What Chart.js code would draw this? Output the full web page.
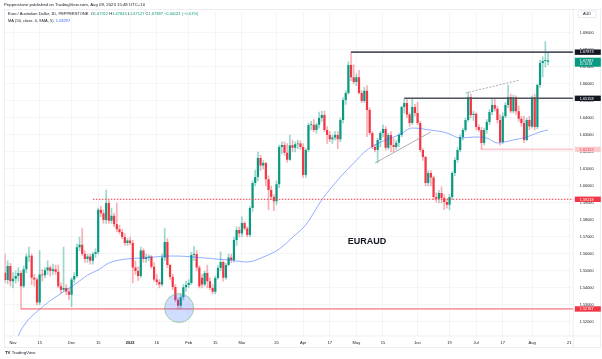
<!DOCTYPE html>
<html>
<head>
<meta charset="utf-8">
<script src="https://cdn.jsdelivr.net/npm/chart.js@4.4.0/dist/chart.umd.min.js"></script>
<style>
  html, body { margin: 0; padding: 0; background: #fff; }
  #wrap { width: 602px; height: 359px; }
</style>
</head>
<body>
<div id="wrap"><canvas id="euraudChart" width="602" height="359"></canvas></div>
<script>
// EUR/AUD daily candles, index 0 = 1 Nov 2022, last = 9 Aug 2023
const firstIndex = -3;
const lastIndex = 210; // empty bars after the last candle

const opens = [
  1.5490,1.5447,1.5530,1.5440,1.5455,1.5470,1.5488,1.5410,1.5510,1.5585,
  1.5590,1.5460,1.5450,1.5315,1.5480,1.5475,1.5505,1.5520,1.5500,1.5510,
  1.5495,1.5410,1.5390,1.5400,1.5380,1.5360,1.5450,1.5470,1.5640,1.5655,
  1.5600,1.5570,1.5585,1.5560,1.5600,1.5610,1.5860,1.5840,1.5800,1.5900,
  1.5795,1.5825,1.5775,1.5745,1.5730,1.5700,1.5665,1.5680,1.5665,1.5520,
  1.5500,1.5470,1.5620,1.5570,1.5580,1.5585,1.5525,1.5450,1.5435,1.5420,
  1.5580,1.5670,1.5535,1.5465,1.5406,1.5330,1.5295,1.5345,1.5405,1.5418,
  1.5430,1.5594,1.5600,1.5520,1.5460,1.5420,1.5488,1.5440,1.5400,1.5378,
  1.5459,1.5518,1.5553,1.5460,1.5535,1.5580,1.5565,1.5682,1.5741,1.5720,
  1.5782,1.5750,1.5712,1.5871,1.6018,1.6053,1.6165,1.6120,1.6135,1.6040,
  1.5976,1.5935,1.5910,1.6010,1.6229,1.6241,1.6195,1.6155,1.6240,1.6225,
  1.6245,1.6250,1.6230,1.6065,1.6212,1.6359,1.6360,1.6330,1.6360,1.6400,
  1.6418,1.6330,1.6300,1.6275,1.6285,1.6300,1.6275,1.6388,1.6506,1.6547,
  1.6712,1.6640,1.6612,1.6640,1.6547,1.6500,1.6560,1.6447,1.6312,1.6229,
  1.6212,1.6270,1.6312,1.6335,1.6225,1.6300,1.6241,1.6230,1.6255,1.6300,
  1.6465,1.6488,1.6420,1.6370,1.6465,1.6430,1.6370,1.6212,1.6170,1.6018,
  1.6076,1.6050,1.5935,1.5925,1.5959,1.5930,1.5906,1.5890,1.5935,1.6076,
  1.6153,1.6212,1.6288,1.6329,1.6388,1.6524,1.6418,1.6425,1.6347,1.6330,
  1.6253,1.6329,1.6376,1.6435,1.6476,1.6455,1.6388,1.6259,1.6410,1.6476,
  1.6524,1.6440,1.6520,1.6440,1.6395,1.6370,1.6271,1.6388,1.6350,1.6520,
  1.6347,1.6594,1.6723,1.6735,1.67312
];
const highs = [
  1.5600,1.5560,1.5545,1.5490,1.5500,1.5520,1.5500,1.5530,1.5600,1.5640,
  1.5600,1.5480,1.5460,1.5620,1.5510,1.5520,1.5560,1.5530,1.5540,1.5535,
  1.5535,1.5430,1.5640,1.5420,1.5400,1.5460,1.5490,1.5660,1.5700,1.5750,
  1.5620,1.5600,1.5600,1.5610,1.5630,1.5870,1.5880,1.5860,1.5976,1.5915,
  1.5870,1.5840,1.5900,1.5770,1.5745,1.5720,1.5690,1.5700,1.5680,1.5560,
  1.5525,1.5640,1.5630,1.5600,1.5595,1.5590,1.5550,1.5480,1.5450,1.5600,
  1.5750,1.5690,1.5540,1.5480,1.5420,1.5340,1.5360,1.5420,1.5440,1.5450,
  1.5610,1.5645,1.5620,1.5530,1.5480,1.5500,1.5535,1.5460,1.5420,1.5470,
  1.5530,1.5612,1.5560,1.5545,1.5600,1.5600,1.5700,1.5760,1.5760,1.5818,
  1.5790,1.5760,1.5880,1.6030,1.6094,1.6200,1.6180,1.6150,1.6140,1.6060,
  1.6000,1.5950,1.6030,1.6240,1.6260,1.6260,1.6250,1.6300,1.6270,1.6260,
  1.6270,1.6265,1.6250,1.6220,1.6370,1.6380,1.6390,1.6370,1.6435,1.6440,
  1.6440,1.6350,1.6320,1.6300,1.6320,1.6320,1.6400,1.6520,1.6560,1.6730,
  1.6787,1.6712,1.6660,1.6680,1.6560,1.6580,1.6590,1.6460,1.6320,1.6245,
  1.6280,1.6320,1.6360,1.6350,1.6310,1.6320,1.6280,1.6270,1.6310,1.6470,
  1.6516,1.6510,1.6430,1.6515,1.6480,1.6494,1.6380,1.6220,1.6175,1.6090,
  1.6090,1.6060,1.5960,1.5975,1.5995,1.5950,1.5925,1.5950,1.6085,1.6165,
  1.6225,1.6300,1.6340,1.6400,1.6553,1.6540,1.6440,1.6430,1.6360,1.6345,
  1.6340,1.6390,1.6450,1.6515,1.6515,1.6470,1.6420,1.6430,1.6490,1.6594,
  1.6540,1.6535,1.6530,1.6470,1.6410,1.6410,1.6400,1.6410,1.6530,1.6540,
  1.6600,1.6740,1.6760,1.6850,1.67844
];
const lows = [
  1.5430,1.5425,1.5410,1.5400,1.5430,1.5440,1.5277,1.5400,1.5490,1.5555,
  1.5420,1.5410,1.5300,1.5300,1.5440,1.5460,1.5480,1.5470,1.5480,1.5480,
  1.5400,1.5370,1.5380,1.5360,1.5330,1.5290,1.5430,1.5460,1.5620,1.5590,
  1.5550,1.5550,1.5540,1.5540,1.5580,1.5600,1.5820,1.5780,1.5780,1.5780,
  1.5780,1.5760,1.5730,1.5720,1.5690,1.5650,1.5650,1.5655,1.5430,1.5480,
  1.5445,1.5460,1.5550,1.5550,1.5560,1.5515,1.5440,1.5420,1.5400,1.5410,
  1.5560,1.5520,1.5450,1.5390,1.5320,1.5277,1.5280,1.5330,1.5380,1.5400,
  1.5420,1.5560,1.5500,1.5400,1.5400,1.5410,1.5400,1.5390,1.5365,1.5365,
  1.5450,1.5500,1.5440,1.5450,1.5530,1.5550,1.5550,1.5650,1.5700,1.5700,
  1.5740,1.5700,1.5700,1.5850,1.6000,1.6030,1.6090,1.6100,1.6000,1.5860,
  1.5920,1.5855,1.5890,1.5990,1.6190,1.6180,1.6140,1.6150,1.6200,1.6200,
  1.6220,1.6215,1.6050,1.6050,1.6200,1.6330,1.6320,1.6310,1.6340,1.6380,
  1.6320,1.6250,1.6260,1.6250,1.6270,1.6220,1.6260,1.6370,1.6480,1.6540,
  1.6620,1.6600,1.6590,1.6540,1.6490,1.6490,1.6290,1.6300,1.6220,1.6200,
  1.6135,1.6230,1.6290,1.6210,1.6215,1.6200,1.6200,1.6215,1.6230,1.6290,
  1.6430,1.6400,1.6350,1.6360,1.6410,1.6360,1.6200,1.6150,1.6000,1.6000,
  1.6000,1.5920,1.5905,1.5900,1.5900,1.5860,1.5870,1.5860,1.5920,1.6060,
  1.6140,1.6200,1.6270,1.6320,1.6380,1.6400,1.6385,1.6330,1.6320,1.6215,
  1.6240,1.6310,1.6360,1.6420,1.6440,1.6370,1.6240,1.6250,1.6400,1.6460,
  1.6430,1.6430,1.6420,1.6380,1.6350,1.6255,1.6265,1.6330,1.6340,1.6330,
  1.6335,1.6580,1.6640,1.6700,1.67127
];
const closes = [
  1.5447,1.5530,1.5440,1.5455,1.5470,1.5488,1.5410,1.5510,1.5585,1.5590,
  1.5460,1.5450,1.5315,1.5480,1.5475,1.5505,1.5520,1.5500,1.5510,1.5495,
  1.5410,1.5390,1.5400,1.5380,1.5360,1.5450,1.5470,1.5640,1.5655,1.5600,
  1.5570,1.5585,1.5560,1.5600,1.5610,1.5860,1.5840,1.5800,1.5900,1.5795,
  1.5825,1.5775,1.5745,1.5730,1.5700,1.5665,1.5680,1.5665,1.5520,1.5500,
  1.5470,1.5620,1.5570,1.5580,1.5585,1.5525,1.5450,1.5435,1.5420,1.5580,
  1.5670,1.5535,1.5465,1.5406,1.5330,1.5295,1.5345,1.5405,1.5418,1.5430,
  1.5594,1.5600,1.5520,1.5410,1.5420,1.5488,1.5440,1.5400,1.5378,1.5459,
  1.5518,1.5553,1.5460,1.5535,1.5580,1.5565,1.5682,1.5741,1.5720,1.5782,
  1.5750,1.5712,1.5871,1.6018,1.6053,1.6165,1.6120,1.6135,1.6040,1.5976,
  1.5935,1.5910,1.6010,1.6229,1.6241,1.6195,1.6155,1.6240,1.6225,1.6245,
  1.6250,1.6230,1.6065,1.6212,1.6359,1.6360,1.6330,1.6360,1.6400,1.6418,
  1.6330,1.6300,1.6275,1.6285,1.6300,1.6275,1.6388,1.6506,1.6547,1.6712,
  1.6640,1.6612,1.6640,1.6547,1.6500,1.6560,1.6447,1.6312,1.6229,1.6212,
  1.6270,1.6312,1.6335,1.6225,1.6300,1.6241,1.6230,1.6255,1.6300,1.6465,
  1.6488,1.6420,1.6370,1.6465,1.6430,1.6370,1.6212,1.6170,1.6018,1.6076,
  1.6050,1.5935,1.5925,1.5959,1.5930,1.5906,1.5890,1.5935,1.6076,1.6153,
  1.6212,1.6288,1.6329,1.6388,1.6524,1.6418,1.6425,1.6347,1.6330,1.6253,
  1.6329,1.6376,1.6435,1.6476,1.6455,1.6388,1.6259,1.6410,1.6476,1.6524,
  1.6440,1.6520,1.6440,1.6395,1.6370,1.6271,1.6388,1.6350,1.6520,1.6347,
  1.6594,1.6723,1.6735,1.67408,1.67387
];

// MA (50, close) at some bars
const maIndex = [1, 3, 11, 20, 24, 28, 32, 36, 43, 48, 53, 58, 62, 68, 76, 81, 88, 94, 100, 106, 110, 116, 123, 128, 133, 140, 145, 150, 157, 163, 168, 173, 178, 182, 188, 193, 198, 201];
const maValues = [1.5080, 1.5153, 1.5288, 1.5388, 1.5429, 1.5476, 1.5506, 1.5547, 1.5571, 1.5576, 1.5582, 1.5588, 1.5588, 1.5582, 1.5571, 1.5565, 1.5553, 1.5582, 1.5629, 1.5712, 1.5771, 1.5918, 1.6053, 1.6135, 1.6212, 1.6271, 1.6300, 1.6341, 1.6329, 1.6312, 1.6282, 1.6288, 1.6282, 1.6253, 1.6271, 1.6288, 1.6318, 1.63297];

// time axis
const timeTickIndex = [0, 10, 22, 32, 44, 54, 66, 76, 86, 99, 109, 119, 129, 139, 152, 164, 174, 184, 195, 209];
const timeTickText = ['Nov', '15', 'Dec', '15', '2023', '16', 'Feb', '15', 'Mar', '20', 'Apr', '17', 'May', '15', 'Jun', '19', 'Jul', '17', 'Aug', '21'];

// price axis
const priceTicks = [1.52, 1.53, 1.54, 1.55, 1.56, 1.57, 1.58, 1.59, 1.60, 1.61, 1.62, 1.63, 1.64, 1.65, 1.66, 1.67, 1.68, 1.69];
const priceMin = 1.51176;
const priceMax = 1.70235;

// drawings
const levelPrices = [1.67873, 1.65158, 1.62152, 1.59218, 1.52767];
const levelFrom = [127, 147, 176, 30, 3];
const trendStart = [[136, 1.6135], [170, 1.6547]];
const trendEnd = [[157, 1.6318], [190.5, 1.6624]];
const circleAt = [62.4, 1.5282];
const noteAt = [133, 1.5676];
const noteText = 'EURAUD';

const UP = '#089981', DOWN = '#f23645';
const FONT = '"Liberation Sans", Arial, sans-serif';

const categories = [];
for (let i = firstIndex; i <= lastIndex; i++) categories.push(String(i));

const bodies = categories.map((_, k) => k < opens.length ? [Math.min(opens[k], closes[k]), Math.max(opens[k], closes[k])] : null);
const wicks = categories.map((_, k) => k < opens.length ? [lows[k], highs[k]] : null);
const isUp = categories.map((_, k) => k < opens.length && closes[k] >= opens[k]);

const maData = categories.map(() => null);
maIndex.forEach((i, k) => { maData[i - firstIndex] = maValues[k]; });

function drawRun(ctx, x, y, parts, size) {
  parts.forEach(p => {
    ctx.font = (p[2] ? 'bold ' : '') + size + 'px ' + FONT;
    ctx.fillStyle = p[1];
    ctx.fillText(p[0], x, y);
    x += ctx.measureText(p[0]).width;
  });
}

const drawings = {
  id: 'drawings',
  afterDatasetsDraw(chart) {
    const { ctx, chartArea: a, scales: { x, y } } = chart;
    const px = i => x.getPixelForValue(i - firstIndex);
    ctx.save();
    ctx.beginPath();
    ctx.rect(a.left, a.top, a.right - a.left, a.bottom - a.top);
    ctx.clip();

    const levelStyle = [
      ['#50535e', 1.6, []],
      ['#50535e', 1.6, []],
      ['rgba(242,54,69,0.25)', 1.6, []],
      ['#f23645', 1, [1.5, 1.5]],
      ['#f7525f', 1, []]
    ];
    levelPrices.forEach((p, k) => {
      const yy = y.getPixelForValue(p);
      ctx.strokeStyle = levelStyle[k][0];
      ctx.lineWidth = levelStyle[k][1];
      ctx.setLineDash(levelStyle[k][2]);
      ctx.beginPath();
      ctx.moveTo(px(levelFrom[k]), yy);
      ctx.lineTo(a.right, yy);
      ctx.stroke();
    });

    // trend lines
    trendStart.forEach((s, k) => {
      const e = trendEnd[k];
      ctx.strokeStyle = '#9598a1';
      ctx.lineWidth = 0.8;
      ctx.setLineDash(k === 1 ? [2, 1.5] : []);
      ctx.beginPath();
      ctx.moveTo(px(s[0]), y.getPixelForValue(s[1]));
      ctx.lineTo(px(e[0]), y.getPixelForValue(e[1]));
      ctx.stroke();
    });
    ctx.setLineDash([]);

    // circle round the January low
    ctx.beginPath();
    ctx.arc(px(circleAt[0]), y.getPixelForValue(circleAt[1]), 14.5, 0, Math.PI * 2);
    ctx.fillStyle = 'rgba(41,98,255,0.22)';
    ctx.fill();
    ctx.strokeStyle = 'rgba(102,187,106,0.7)';
    ctx.lineWidth = 0.8;
    ctx.stroke();

    ctx.font = 'bold 9px ' + FONT;
    ctx.fillStyle = '#131722';
    ctx.textAlign = 'center';
    ctx.textBaseline = 'middle';
    ctx.fillText(noteText, px(noteAt[0]), y.getPixelForValue(noteAt[1]));
    ctx.restore();
  },
  afterDraw(chart) {
    const { ctx, chartArea: a, scales: { y } } = chart;
    const n = closes.length - 1;
    ctx.save();

    // panel frame
    ctx.strokeStyle = '#e0e3eb';
    ctx.lineWidth = 0.6;
    ctx.strokeRect(4.3, 9.3, 596.4, 338);
    ctx.beginPath();
    ctx.moveTo(a.right, 9.3); ctx.lineTo(a.right, 347.3);
    ctx.moveTo(4.3, a.bottom); ctx.lineTo(600.7, a.bottom);
    ctx.stroke();

    // price boxes on the axis
    const boxes = [
      [levelPrices[0], '#131722', '#ffffff'],
      [levelPrices[1], '#131722', '#ffffff'],
      [levelPrices[2], '#fccbcd', '#f23645'],
      [levelPrices[3], '#f23645', '#ffffff'],
      [levelPrices[4], '#f23645', '#ffffff']
    ];
    ctx.textBaseline = 'middle';
    ctx.textAlign = 'left';
    ctx.font = '3.8px ' + FONT;
    boxes.forEach(b => {
      const yy = y.getPixelForValue(b[0]);
      ctx.fillStyle = b[1];
      ctx.fillRect(a.right + 1.5, yy - 2.7, 26, 5.4);
      ctx.fillStyle = b[2];
      ctx.fillText(b[0].toFixed(5), a.right + 6.5, yy + 0.2);
    });
    const yc = y.getPixelForValue(closes[n]);
    ctx.fillStyle = UP;
    ctx.fillRect(a.right + 1.5, yc - 2.7, 26, 9);
    ctx.fillStyle = '#ffffff';
    ctx.fillText(closes[n].toFixed(5), a.right + 6.5, yc + 0.2);
    ctx.font = '3.2px ' + FONT;
    ctx.fillText('15:10:18', a.right + 6.5, yc + 4.2);

    // AUD button
    ctx.fillStyle = '#ffffff';
    ctx.strokeStyle = '#d1d4dc';
    ctx.lineWidth = 0.5;
    ctx.fillRect(578, 11, 18, 6.5);
    ctx.strokeRect(578, 11, 18, 6.5);
    ctx.fillStyle = '#131722';
    ctx.font = '3.8px ' + FONT;
    ctx.fillText('AUD', 583, 14.4);

    // header and legend
    ctx.textBaseline = 'middle';
    drawRun(ctx, 4, 4.6, [['Pepperstone published on TradingView.com, Aug 09, 2023 15:48 UTC+10', '#131722']], 4.3);
    const chg = closes[n] - closes[n - 1];
    const col = closes[n] >= opens[n] ? UP : DOWN;
    drawRun(ctx, 8, 14, [
      ['Euro / Australian Dollar, 1D, PEPPERSTONE  ', '#131722'],
      ['O', '#131722'], [opens[n].toFixed(5) + ' ', col],
      ['H', '#131722'], [highs[n].toFixed(5) + ' ', col],
      ['L', '#131722'], [lows[n].toFixed(5) + ' ', col],
      ['C', '#131722'], [closes[n].toFixed(5) + ' ', col],
      [(chg < 0 ? '\u2212' : '+') + Math.abs(chg).toFixed(5) + ' (' + (chg < 0 ? '\u2212' : '+') + Math.abs(chg / closes[n - 1] * 100).toFixed(2) + '%)', col]
    ], 4);
    drawRun(ctx, 8, 20.5, [
      ['MA (50, close, 0, SMA, 5)  ', '#131722'],
      [maValues[maValues.length - 1].toFixed(5), '#2962ff']
    ], 4);

    // footer logo
    drawRun(ctx, 5, 352.5, [['TV', '#131722', true], [' TradingView', '#131722']], 4.3);
    ctx.restore();
  }
};

new Chart(document.getElementById('euraudChart'), {
  type: 'bar',
  data: {
    labels: categories,
    datasets: [
      {
        label: 'wicks',
        data: wicks,
        backgroundColor: isUp.map(u => u ? 'rgba(8,153,129,0.4)' : 'rgba(242,54,69,0.4)'),
        barThickness: 1,
        grouped: false,
        order: 3
      },
      {
        label: 'EURAUD',
        data: bodies,
        backgroundColor: isUp.map(u => u ? UP : DOWN),
        barPercentage: 0.82,
        categoryPercentage: 1,
        minBarLength: 0.8,
        grouped: false,
        order: 2
      },
      {
        type: 'line',
        label: 'MA 50',
        data: maData,
        borderColor: 'rgba(41,98,255,0.5)',
        borderWidth: 1,
        pointRadius: 0,
        spanGaps: true,
        cubicInterpolationMode: 'monotone',
        order: 1
      }
    ]
  },
  options: {
    responsive: false,
    animation: false,
    devicePixelRatio: 1,
    layout: { padding: { left: 3.7, right: 0, top: 12, bottom: 12 } },
    plugins: {
      legend: { display: false },
      tooltip: { enabled: false }
    },
    scales: {
      x: {
        type: 'category',
        offset: true,
        grid: { color: '#f0f2f5', lineWidth: 0.8, offset: false, drawTicks: false },
        border: { display: false },
        afterBuildTicks: axis => { axis.ticks = timeTickIndex.map(i => ({ value: i - firstIndex })); },
        afterFit: axis => { axis.height = 11; },
        ticks: {
          autoSkip: false,
          maxRotation: 0,
          padding: 4,
          color: '#131722',
          font: c => ({ size: 4, family: FONT, weight: timeTickText[c.index] === '2023' ? 'bold' : 'normal' }),
          callback: (v, k) => timeTickText[k]
        }
      },
      y: {
        position: 'right',
        min: priceMin,
        max: priceMax,
        grid: { color: '#f0f2f5', lineWidth: 0.8, drawTicks: false },
        border: { display: false },
        afterBuildTicks: axis => { axis.ticks = priceTicks.map(v => ({ value: v })); },
        afterFit: axis => { axis.width = 28.7; },
        ticks: {
          padding: 6.5,
          color: '#131722',
          font: { size: 3.8, family: FONT },
          callback: v => v.toFixed(5)
        }
      }
    }
  },
  plugins: [drawings]
});
</script>
</body>
</html>
